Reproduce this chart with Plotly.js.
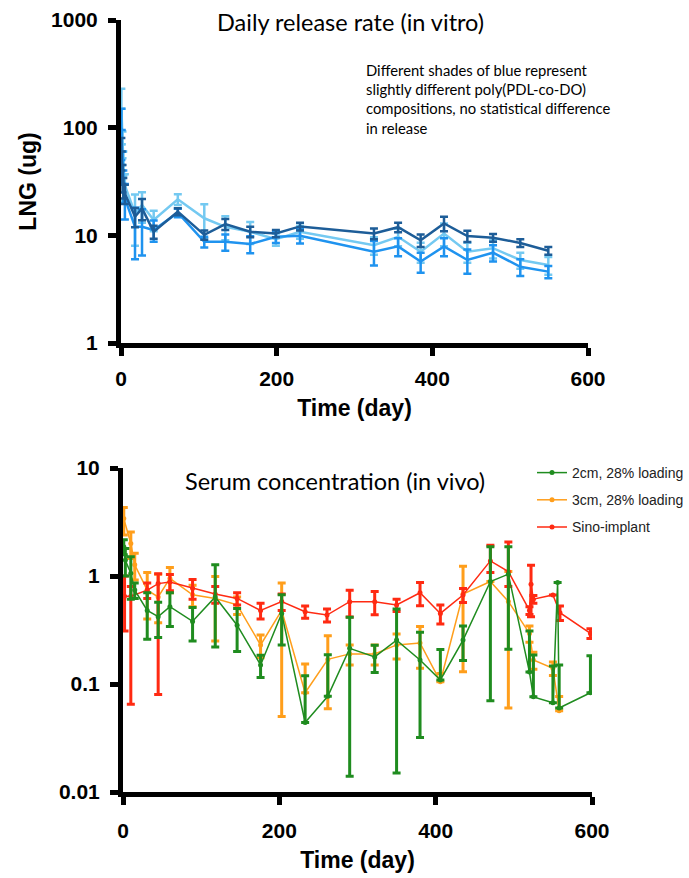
<!DOCTYPE html>
<html><head><meta charset="utf-8">
<script src="https://cdn.plot.ly/plotly-3.0.1.min.js"></script>
<style>html,body{margin:0;padding:0;background:#fff}</style>
</head><body><div id="chart" style="width:689px;height:878px"></div>
<script>
// ---------- Top chart: daily release rate (in vitro) ----------
const releaseDays = [0.5, 1, 2, 3, 5, 18, 27, 42, 73, 107, 134, 166, 199, 230, 325, 356, 385, 415, 445, 478, 513, 549];
const darkBlue  = [60, 45, 35, 28, 24.5, 14.9, 17.8, 10.8, 16.6, 10.1, 12.7, 10.8, 10.4, 12.1, 10.4, 11.9, 9.0, 12.9, 9.85, 9.5, 8.5, 7.2];
const darkErr   = [20, 15, 10, 6, 5, 3, 4, 1.5, 1.2, 1.0, 1.5, 1.2, 0.8, 1.0, 1.2, 1.2, 1.2, 2.0, 1.2, 0.8, 0.7, 0.6];
const lightBlue = [150, 110, 72, 48, 29, 16, 19.1, 13.9, 21.6, 14.4, 12.0, 10.8, 9.2, 10.8, 8.1, 9.7, 7.05, 10.4, 7.05, 7.6, 5.9, 5.3];
const lightErr  = [80, 40, 20, 12, 8, 8, 6, 3, 2.5, 5.0, 3.0, 2.5, 1.2, 1.5, 1.5, 1.8, 1.5, 2.5, 1.5, 1.5, 1.0, 1.0];
const midBlue   = [100, 70, 45, 30, 22, 12, 12, 11.2, 16.2, 8.7, 8.7, 8.3, 9.7, 9.9, 7.05, 7.9, 5.7, 7.9, 5.9, 6.9, 5.1, 4.6];
const midErr    = [50, 25, 15, 10, 8, 6, 5.5, 2.5, 1.5, 1.0, 1.5, 1.5, 1.2, 1.5, 1.8, 1.5, 1.2, 1.5, 1.5, 1.2, 0.9, 0.6];

// ---------- Bottom chart: serum concentration (in vivo) ----------
const greenDays  = [1, 3, 10, 15, 31, 45, 60, 89, 118, 146, 176, 203, 233, 262, 290, 322, 350, 380, 406, 435, 470, 493, 520, 525, 550, 556, 558, 598];
const greenVal   = [1.87, 1.4, 1.06, 0.74, 0.48, 0.42, 0.52, 0.38, 0.64, 0.35, 0.15, 0.45, 0.044, 0.077, 0.214, 0.178, 0.255, 0.167, 0.109, 0.255, 0.89, 1.04, 0.129, 0.076, 0.067, 0.87, 0.06, 0.083];
const greenPlus  = [0.3, 0.4, 0.45, 0.12, 0.22, 0.15, 0.18, 0.13, 0.63, 0.15, 0.035, 0.22, 0.075, 0.11, 0.2, 0.05, 0.24, 0.135, 0.1, 0.09, 0.98, 0.83, 0.18, 0.11, 0.08, 0, 0.09, 0.1];
const greenMinus = [0.3, 0.4, 0.45, 0.12, 0.22, 0.15, 0.18, 0.13, 0.42, 0.15, 0.035, 0.22, 0, 0, 0.2, 0.05, 0.24, 0.135, 0, 0.09, 0.82, 0.83, 0, 0, 0, 0, 0, 0];

const orangeDays  = [1, 10, 15, 31, 45, 60, 89, 118, 146, 176, 203, 233, 262, 290, 322, 350, 380, 406, 435, 470, 493, 520, 525, 550, 558];
const orangeVal   = [3.4, 2.0, 1.27, 0.74, 0.64, 0.95, 0.67, 0.62, 0.54, 0.23, 0.48, 0.083, 0.169, 0.19, 0.19, 0.23, 0.24, 0.105, 0.68, 0.89, 0.58, 0.294, 0.167, 0.14, 0.0565];
const orangePlus  = [0.9, 0.55, 0.35, 0.34, 0.4, 0.25, 0.15, 0.37, 0.1, 0.055, 0.38, 0.07, 0.11, 0.04, 0.04, 0.06, 0.1, 0.02, 0.55, 0.0, 0.52, 0.05, 0.03, 0.02, 0.02];
const orangeMinus = [1.0, 0.55, 0.35, 0.34, 0.27, 0.25, 0.15, 0.37, 0.1, 0.055, 0.43, 0.0, 0.11, 0.04, 0.04, 0.06, 0.1, 0.0, 0.55, 0.0, 0.52, 0.05, 0.03, 0.02, 0.0];

const redDays  = [2, 10, 31, 45, 60, 89, 118, 146, 176, 203, 233, 261, 290, 322, 350, 380, 406, 435, 470, 493, 520, 522, 525, 550, 559, 598];
const redVal   = [0.65, 0.65, 0.74, 0.85, 0.88, 0.77, 0.68, 0.62, 0.48, 0.58, 0.467, 0.435, 0.578, 0.578, 0.539, 0.70, 0.45, 0.667, 1.38, 1.10, 0.48, 0.84, 0.61, 0.667, 0.457, 0.294];
const redPlus  = [0.35, 0.15, 0.12, 0.2, 0.15, 0.16, 0.12, 0.08, 0.08, 0.1, 0.06, 0.06, 0.16, 0.14, 0.07, 0.17, 0.09, 0.1, 0.55, 0.97, 0.04, 0.42, 0.05, 0.0, 0.07, 0.03];
const redMinus = [0.34, 0.585, 0.12, 0.77, 0.15, 0.16, 0.12, 0.08, 0.08, 0.1, 0.06, 0.06, 0.16, 0.14, 0.07, 0.17, 0.09, 0.1, 0.3, 0.3, 0.04, 0.42, 0.05, 0.0, 0.07, 0.03];

const topYTicks = [1, 10, 100, 1000];
const botYTicks = [0.01, 0.1, 1, 10];
const botYTickText = ['0.01', '0.1', '1', '10'];
const xTicks = [0, 200, 400, 600];

function blueTrace(y, err, color) {
  return {
    x: releaseDays, y: y, xaxis: 'x', yaxis: 'y', type: 'scatter', mode: 'lines',
    line: {color: color, width: 2.5}, showlegend: false, hoverinfo: 'skip',
    error_y: {type: 'data', array: err, visible: true, color: color, thickness: 2.5, width: 4}
  };
}
function serumTrace(x, y, plus, minus, color, name, rank) {
  return {
    x: x, y: y, xaxis: 'x2', yaxis: 'y2', type: 'scatter', mode: 'lines+markers', name: name,
    legendgroup: name, legendrank: rank,
    line: {color: color, width: 1.5}, marker: {color: color, size: 5},
    error_y: {type: 'data', array: plus, arrayminus: minus, visible: true, color: color, thickness: 3, width: 4}
  };
}

const data = [
  blueTrace(lightBlue, lightErr, '#74c9f1'),
  blueTrace(midBlue, midErr, '#1f93ef'),
  blueTrace(darkBlue, darkErr, '#1d5d98'),
  serumTrace(orangeDays, orangeVal, orangePlus, orangeMinus, '#ff9e1b', '3cm, 28% loading', 2),
  serumTrace(redDays, redVal, redPlus, redMinus, '#ff2a12', 'Sino-implant', 3),
  serumTrace(greenDays, greenVal, greenPlus, greenMinus, '#1f8c1f', '2cm, 28% loading', 1)
];

const tickFont = {family: 'Liberation Sans, Arial, sans-serif', size: 21, color: '#000', weight: 'bold'};
const titleFont = {family: 'Liberation Sans, Arial, sans-serif', size: 23, color: '#000', weight: 'bold'};
const axisCommon = {
  showline: true, linecolor: '#000', linewidth: 5, ticks: 'outside', ticklen: 8, tickwidth: 5, tickcolor: '#000',
  showgrid: false, zeroline: false, tickfont: tickFont
};

const layout = {
  width: 689, height: 878, margin: {l: 0, r: 0, t: 0, b: 0},
  paper_bgcolor: '#fff', plot_bgcolor: 'rgba(0,0,0,0)',
  showlegend: true,
  xaxis: Object.assign({}, axisCommon, {
    domain: [121/689, 588/689], range: [0, 600], anchor: 'y', tickvals: xTicks, ticklabelstandoff: 5,
    title: {text: 'Time (day)', font: titleFont, standoff: 12}
  }),
  yaxis: Object.assign({}, axisCommon, {
    domain: [1 - 343/878, 1 - 20/878], type: 'log', range: [0, 3], anchor: 'x',
    tickvals: topYTicks, ticktext: topYTicks.map(String), ticklabelstandoff: 6,
    title: {text: 'LNG (ug)', font: titleFont, standoff: 10}
  }),
  xaxis2: Object.assign({}, axisCommon, {
    domain: [123/689, 592/689], range: [0, 600], anchor: 'y2', tickvals: xTicks, ticklabelstandoff: 8,
    title: {text: 'Time (day)', font: titleFont, standoff: 12}
  }),
  yaxis2: Object.assign({}, axisCommon, {
    domain: [1 - 792/878, 1 - 468/878], type: 'log', range: [-2, 1], anchor: 'x2',
    tickvals: botYTicks, ticktext: botYTickText, ticklabelstandoff: 6
  }),
  legend: {
    x: 532/689, y: 1 - 457/878, xanchor: 'left', yanchor: 'top',
    font: {family: 'Liberation Sans, Arial, sans-serif', size: 14, color: '#222'},
    traceorder: 'grouped', tracegroupgap: 6, bgcolor: 'rgba(0,0,0,0)'
  },
  annotations: [
    {xref: 'paper', yref: 'paper', x: 350/689, y: 1 - 22/878, xanchor: 'center', yanchor: 'middle', showarrow: false,
     text: 'Daily release rate (in vitro)', font: {family: 'Lato, Open Sans, sans-serif', size: 23.5, color: '#000'}},
    {xref: 'paper', yref: 'paper', x: 364/689, y: 1 - 59/878, xanchor: 'left', yanchor: 'top', align: 'left', showarrow: false,
     text: 'Different shades of blue represent<br>slightly different poly(PDL-co-DO)<br>compositions, no statistical difference<br>in release',
     font: {family: 'Lato, Open Sans, sans-serif', size: 14.8, color: '#000'}},
    {xref: 'paper', yref: 'paper', x: 183/689, y: 1 - 481/878, xanchor: 'left', yanchor: 'middle', showarrow: false,
     text: 'Serum concentration (in vivo)', font: {family: 'Lato, Open Sans, sans-serif', size: 23.5, color: '#000'}}
  ]
};

Plotly.newPlot('chart', data, layout, {staticPlot: true, displayModeBar: false});
</script></body></html>
